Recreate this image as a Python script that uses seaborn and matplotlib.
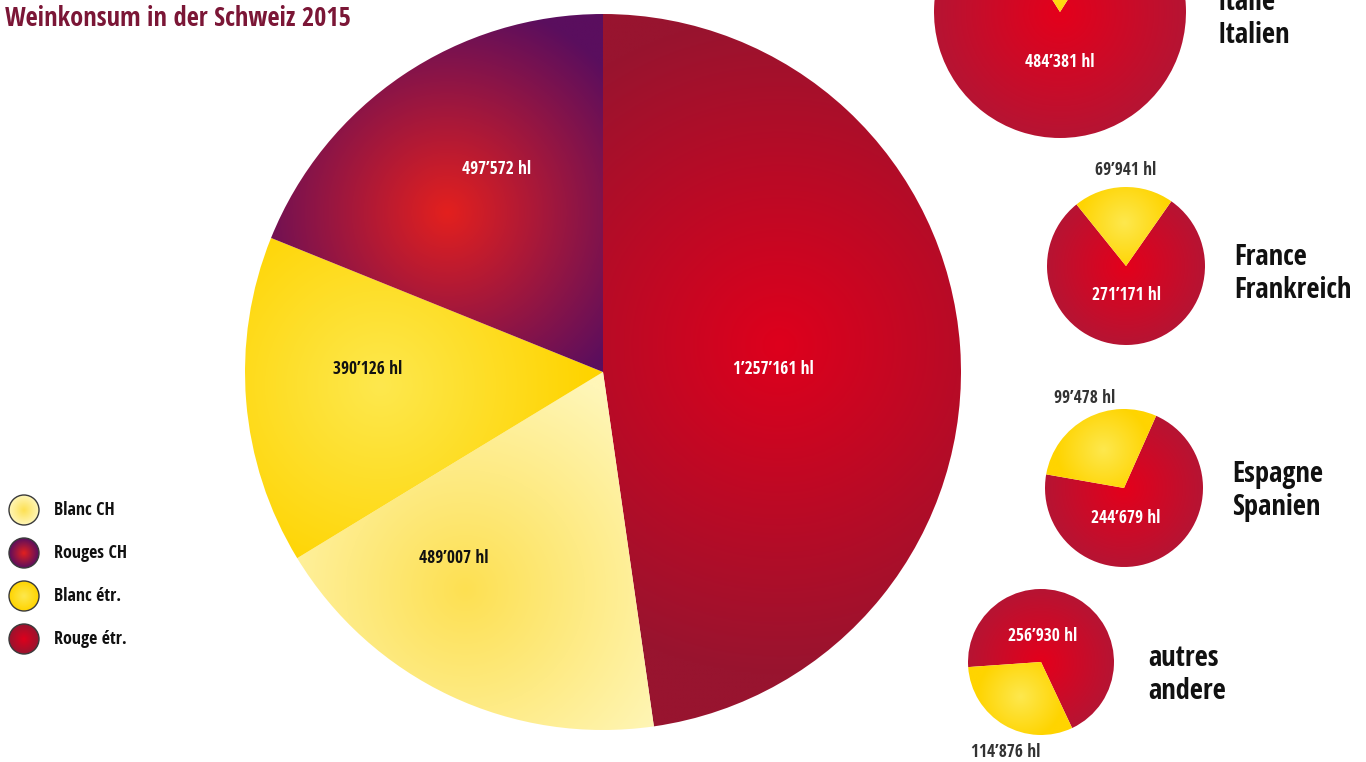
#Weinkonsum in der Schweiz 2015 - pie charts with radial gradients

import numpy as np
import matplotlib
matplotlib.use('Agg')
import matplotlib.pyplot as plt
from matplotlib.patches import Circle
import seaborn as sns

#data (hl)
categories = ['Blanc CH', 'Rouges CH', 'Blanc étr.', 'Rouge étr.']
volumes = [489007, 497572, 390126, 1257161]

countries = ['Italie\nItalien', 'France\nFrankreich', 'Espagne\nSpanien', 'autres\nandere']
white_by_country = [105831, 69941, 99478, 114876]
red_by_country = [484381, 271171, 244679, 256930]

#styling
sns.set_theme(style='white')
plt.rcParams['font.family'] = ['Open Sans Condensed', 'DejaVu Sans']
plt.rcParams['font.weight'] = 'bold'

H = 762
title_color = '#7b1636'

#gradient colours (inner, outer)
grad = {
    'Blanc CH': ('#fde052', '#fff6b8'),
    'Rouges CH': ('#e3201e', '#5a0e5e'),
    'Blanc étr.': ('#fde84e', '#ffd400'),
    'Rouge étr.': ('#de001c', '#98142f'),
}
small_red = ('#e4001b', '#b61433')
small_white = ('#fde84e', '#ffd400')


def fmt(v):
    return f'{v:,}'.replace(',', '’') + ' hl'


def radial_fill(ax, patch, cx, cy, r, colors, box):
    x0, x1, y0, y1 = box
    xs = np.linspace(x0, x1, 400)
    ys = np.linspace(y0, y1, 400)
    X, Y = np.meshgrid(xs, ys)
    t = np.clip(np.hypot(X - cx, Y - cy) / r, 0, 1)
    cmap = sns.blend_palette(list(colors), as_cmap=True)
    im = ax.imshow(t, cmap=cmap, vmin=0, vmax=1, extent=(x0, x1, y0, y1),
                   origin='lower', interpolation='bilinear', zorder=1)
    im.set_clip_path(patch)
    patch.set_facecolor('none')
    patch.set_edgecolor('none')


fig = plt.figure(figsize=(13.66, 7.62), dpi=100)
ax = fig.add_axes([0, 0, 1, 1])

#main pie: clockwise from the top
order = ['Rouge étr.', 'Blanc CH', 'Blanc étr.', 'Rouges CH']
main_vals = [volumes[categories.index(c)] for c in order]
main_c = (603, H - 372)
main_r = 358
wedges, _ = ax.pie(main_vals, startangle=90, counterclock=False,
                   center=main_c, radius=main_r, frame=True)

#gradient highlight spot and reach for each slice
spot = {'Rouge étr.': (780, 345), 'Rouges CH': (447, 212),
        'Blanc étr.': (380, 385), 'Blanc CH': (465, 590)}
reach = {'Rouge étr.': 330, 'Rouges CH': 215, 'Blanc étr.': 210, 'Blanc CH': 240}
cx, cy = main_c
for w, c in zip(wedges, order):
    sx, sy = spot[c]
    radial_fill(ax, w, sx, H - sy, reach[c], grad[c],
                (cx - main_r, cx + main_r, cy - main_r, cy + main_r))

main_label_pos = {'Rouge étr.': (773, 369), 'Rouges CH': (497, 169),
                  'Blanc étr.': (368, 369), 'Blanc CH': (454, 558)}
main_label_col = {'Rouge étr.': 'white', 'Rouges CH': 'white',
                  'Blanc étr.': '#111111', 'Blanc CH': '#111111'}
for c in order:
    x, y = main_label_pos[c]
    ax.text(x, H - y, fmt(volumes[categories.index(c)]), color=main_label_col[c],
            fontsize=12.5, ha='center', va='center', zorder=3)

#small pies per country: white first (counterclockwise), then red
small_c = [(1060, H - 12), (1126, H - 266), (1124, H - 488), (1041, H - 662)]
small_r = [126, 79, 79, 73]
small_start = [57.7, 55, 66, 184]
red_lbl = [(1060, 62), (1126, 295), (1126, 518), (1043, 636)]
white_lbl = [(1060, -150), (1126, 170), (1085, 398), (1006, 752)]
name_pos = [(1218, 19), (1234, 274), (1232, 491), (1148, 675)]

for i in range(len(countries)):
    cx, cy = small_c[i]
    r = small_r[i]
    ws, _ = ax.pie([white_by_country[i], red_by_country[i]], startangle=small_start[i],
                   counterclock=True, center=(cx, cy), radius=r, frame=True)
    # red: centred on pie centre
    radial_fill(ax, ws[1], cx, cy, r, small_red, (cx - r, cx + r, cy - r, cy + r))
    mid = np.deg2rad((ws[0].theta1 + ws[0].theta2) / 2)
    radial_fill(ax, ws[0], cx + 0.55 * r * np.cos(mid), cy + 0.55 * r * np.sin(mid),
                0.6 * r, small_white, (cx - r, cx + r, cy - r, cy + r))
    x, y = red_lbl[i]
    ax.text(x, H - y, fmt(red_by_country[i]), color='white', fontsize=12.5,
            ha='center', va='center', zorder=3)
    x, y = white_lbl[i]
    ax.text(x, H - y, fmt(white_by_country[i]), color='#333333', fontsize=12.5,
            ha='center', va='center', zorder=3)
    x, y = name_pos[i]
    ax.text(x, H - y, countries[i], color='#111111', fontsize=20.5, ha='left',
            va='center', linespacing=1.18, zorder=3)

#legend
for k, c in enumerate(categories):
    lx, ly = 24, H - (510 + 43 * k)
    circ = Circle((lx, ly), 15, zorder=2)
    ax.add_patch(circ)
    radial_fill(ax, circ, lx, ly, 15, grad[c], (lx - 16, lx + 16, ly - 16, ly + 16))
    ax.add_patch(Circle((lx, ly), 15, facecolor='none', edgecolor='#3a3a3a', lw=1, zorder=3))
    ax.text(54, ly, c, fontsize=13, color='#111111', ha='left', va='center')

ax.text(5, H - 19, 'Weinkonsum in der Schweiz 2015', color=title_color,
        fontsize=19, ha='left', va='center')

ax.set_xlim(0, 1366)
ax.set_ylim(0, H)
ax.set_aspect('equal')
ax.axis('off')

fig.savefig('out.png', dpi=100)
